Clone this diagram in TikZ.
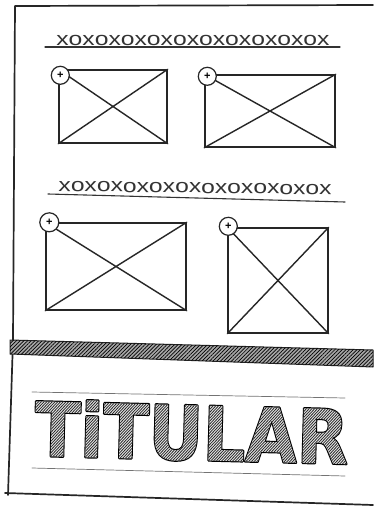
\documentclass[tikz,border=0pt]{standalone}
\usepackage{fontspec}
\setmainfont{Liberation Sans}
\newfontfamily\titlefont{DejaVu Sans}
\usetikzlibrary{patterns.meta}
\newcount\hcnt
\def\hatchlines{}
\hcnt=-470
\loop\edef\hatchlines{\hatchlines\the\hcnt\space -5 m \the\numexpr\hcnt+70\relax\space 65 l }\advance\hcnt by 3 \ifnum\hcnt<20 \repeat
\newcommand\hatchtext[1]{\special{pdf:literal direct q 5 Tr 2.4 w 0 0 0 RG}#1\special{pdf:literal 0.9 g -480 -10 520 90 re f 0.8 w 0.15 0.15 0.15 RG \hatchlines S}\special{pdf:literal direct Q}}
\begin{document}
\begin{tikzpicture}[x=1pt,y=-1pt,line cap=round,line join=round,
  ink/.style={draw=black!85,line width=1.4pt},
  framepen/.style={draw=black!85,line width=1.7pt},
  imgbox/.style={ink,rectangle,inner sep=0pt},
  plusmark/.style={ink,circle,fill=white,minimum size=18pt,inner sep=0pt,line width=1.2pt,font=\fontsize{11}{11}\selectfont\bfseries},
  headtext/.style={inner sep=0pt,anchor=base,xscale=1.3,font=\fontsize{19}{19}\selectfont,text=black!80},
  rule/.style={draw=black!80,line width=1.1pt},
  thinrule/.style={draw=black!55,line width=0.7pt},
  band/.style={draw=black!85,line width=1pt,fill=black!35,
    postaction={pattern={Lines[angle=45,distance=2.6pt,line width=0.7pt]}}}]
\useasboundingbox (0,0) rectangle (373,508);
\fill[white] (0,0) rectangle (373,508);

% page frame
\coordinate (ftl) at (15,6);
\coordinate (ftr) at (373,5);
\coordinate (fml) at (13,340);
\coordinate (fbl) at (8,495);
\coordinate (bl0) at (5,493);
\coordinate (br0) at (373,505);
\draw[framepen] (ftr) -- (ftl) -- (fml) -- (fbl);
\draw[framepen] (bl0) -- (br0);

% heading 1
\node[headtext] (h1) at (193,46) {xoxoxoxoxoxoxoxoxoxox};
\coordinate (u1a) at (45,47);
\coordinate (u1b) at (340,47);
\draw[rule] (u1a) -- (u1b);

% boxes row 1
\node[imgbox,minimum width=108pt,minimum height=73pt] (b1) at (113,106.5) {};
\draw[ink] (b1.north west) -- (b1.south east) (b1.south west) -- (b1.north east);
\node[plusmark] (c1) at ([shift={(2,6)}]b1.north west) {+};

\node[imgbox,minimum width=130pt,minimum height=72pt] (b2) at (270,111) {};
\draw[ink] (b2.north west) -- (b2.south east) (b2.south west) -- (b2.north east);
\node[plusmark] (c2) at ([shift={(3,2)}]b2.north west) {+};

% heading 2
\node[headtext,rotate=-1] (h2) at (195,193) {xoxoxoxoxoxoxoxoxoxox};
\coordinate (u2a) at (48,194);
\coordinate (u2b) at (345,202);
\draw[rule] (u2a) -- (u2b);

% boxes row 2
\node[imgbox,minimum width=140pt,minimum height=87pt] (b3) at (116,266.5) {};
\draw[ink] (b3.north west) -- (b3.south east) (b3.south west) -- (b3.north east);
\node[plusmark,minimum size=19pt] (c3) at ([shift={(4,0)}]b3.north west) {+};

\node[imgbox,minimum width=100pt,minimum height=105pt] (b4) at (278,280.5) {};
\draw[ink] (b4.north west) -- (b4.south east) (b4.south west) -- (b4.north east);
\node[plusmark] (c4) at ([shift={(1,-1)}]b4.north west) {+};

% hatched band
\coordinate (ba) at (10,340);
\coordinate (bb) at (373,350);
\coordinate (bc) at (373,367);
\coordinate (bd) at (10,354);
\path[band] (ba) -- (bb) -- (bc) -- (bd) -- cycle;

% title
\coordinate (t1a) at (32,392);
\coordinate (t1b) at (345,398);
\coordinate (t2a) at (32,468);
\coordinate (t2b) at (345,476);
\draw[thinrule] (t1a) -- (t1b);
\draw[thinrule] (t2a) -- (t2b);
\node[inner sep=0pt,anchor=base,rotate=-1.5,xscale=0.89,
  font=\titlefont\bfseries\fontsize{75}{75}\selectfont] (title) at (191,460)
  {\hatchtext{TiTULAR}};
\end{tikzpicture}
\end{document}
